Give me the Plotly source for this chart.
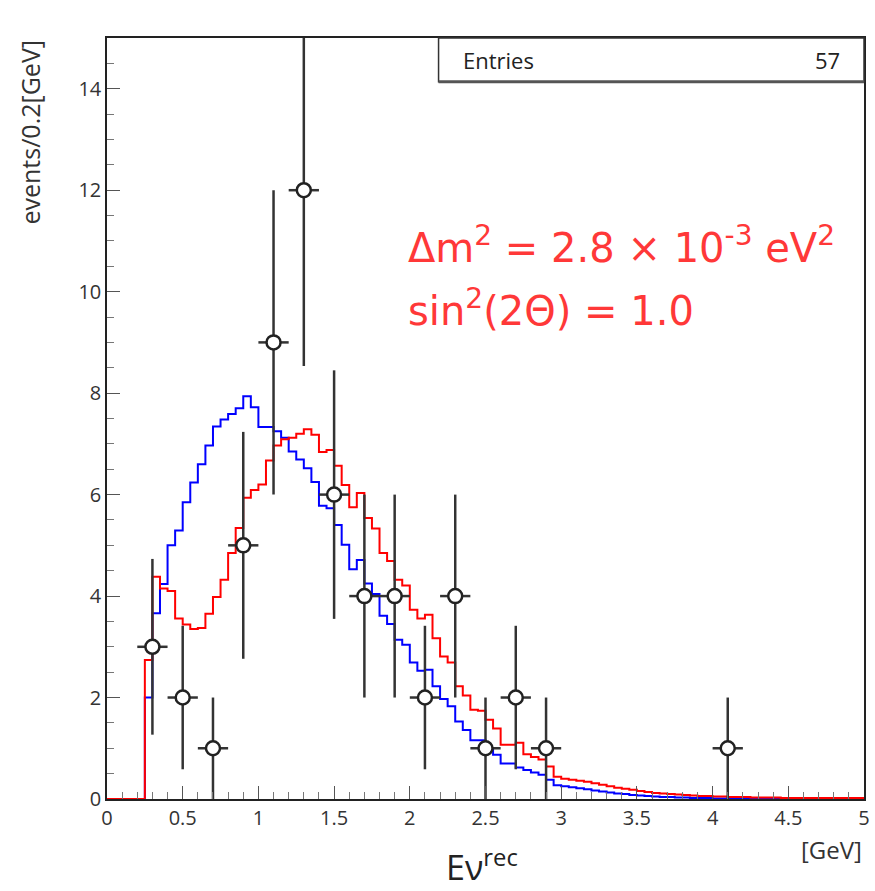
import numpy as np
import plotly.graph_objects as go

# ---------------- data ----------------
bin_width = 0.05
n_bins = 100
bin_edges = np.round(np.arange(n_bins + 1) * bin_width, 4)

# prediction without oscillation (blue), bins of 0.05 GeV from 0 to 5
blue_vals = [0, 0, 0, 0, 0,
             2.00, 3.66, 4.24, 5.00, 5.29, 5.85, 6.24, 6.60, 6.97, 7.34,
             7.48, 7.59, 7.70, 7.94, 7.72, 7.33, 7.33, 7.25, 7.12, 6.85,
             6.69, 6.52, 6.25, 5.78, 5.73, 5.40, 5.01, 4.53, 4.71, 4.25,
             4.04, 3.61, 3.45, 3.14, 3.04, 2.69, 2.53, 2.55, 2.22, 1.97,
             1.83, 1.53, 1.36, 1.16, 1.16, 0.99, 0.87, 0.70, 0.70, 0.62,
             0.57, 0.52, 0.48, 0.38, 0.27, 0.25, 0.23, 0.21, 0.19, 0.17,
             0.15, 0.13, 0.11, 0.10, 0.08, 0.07, 0.06, 0.05, 0.04, 0.04,
             0.03, 0.03, 0.02, 0.02, 0.02, 0.01, 0.01, 0.01, 0.01, 0.01,
             0.01, 0.01, 0.01, 0.01, 0.01, 0.01, 0.01, 0.01, 0.01, 0.01,
             0.01, 0.01, 0.01, 0.01, 0.01]

# prediction with oscillation (red)
red_vals = [0, 0, 0, 0, 0,
            2.74, 4.38, 4.15, 4.10, 3.56, 3.44, 3.35, 3.37, 3.65, 3.98,
            4.32, 4.85, 5.34, 5.94, 6.09, 6.20, 6.67, 6.97, 7.09, 7.12,
            7.20, 7.29, 7.18, 6.84, 6.88, 6.57, 6.19, 5.75, 6.03, 5.54,
            5.33, 4.85, 4.69, 4.32, 4.21, 3.73, 3.56, 3.63, 3.17, 2.81,
            2.69, 2.22, 2.04, 1.76, 1.74, 1.56, 1.39, 1.07, 1.07, 1.11,
            0.88, 0.83, 0.78, 0.64, 0.44, 0.40, 0.38, 0.36, 0.34, 0.31,
            0.28, 0.25, 0.22, 0.20, 0.18, 0.16, 0.14, 0.12, 0.11, 0.10,
            0.09, 0.08, 0.07, 0.06, 0.06, 0.05, 0.05, 0.04, 0.04, 0.04,
            0.03, 0.03, 0.03, 0.03, 0.02, 0.02, 0.02, 0.02, 0.02, 0.02,
            0.02, 0.02, 0.02, 0.02, 0.02]

# observed events (bins of 0.2 GeV)
data_x = [0.3, 0.5, 0.7, 0.9, 1.1, 1.3, 1.5, 1.7, 1.9, 2.1, 2.3, 2.5, 2.7, 2.9, 4.1]
data_y = [3, 2, 1, 5, 9, 12, 6, 4, 4, 2, 4, 1, 2, 1, 1]
data_xerr = 0.1
entries = int(sum(data_y))

x_ticks = [0, 0.5, 1, 1.5, 2, 2.5, 3, 3.5, 4, 4.5, 5]
y_ticks = [0, 2, 4, 6, 8, 10, 12, 14]

# ---------------- figure ----------------
def step_y(vals):
    return list(vals) + [vals[-1]]

fig = go.Figure()
fig.add_trace(go.Scatter(x=bin_edges, y=step_y(blue_vals), mode="lines",
                         line=dict(color="#0000ff", width=2, shape="hv"),
                         showlegend=False, hoverinfo="skip"))
fig.add_trace(go.Scatter(x=bin_edges, y=step_y(red_vals), mode="lines",
                         line=dict(color="#ff0000", width=2, shape="hv"),
                         showlegend=False, hoverinfo="skip"))
fig.add_trace(go.Scatter(
    x=data_x, y=data_y, mode="markers",
    marker=dict(symbol="circle", size=14, color="white",
                line=dict(color="#222222", width=2.5)),
    error_y=dict(type="data", array=list(np.sqrt(data_y)), color="#333333",
                 thickness=2.5, width=0),
    error_x=dict(type="constant", value=data_xerr, color="#333333",
                 thickness=2.5, width=0),
    showlegend=False))

font_family = "Open Sans, Lato, DejaVu Sans, sans-serif"
axis_common = dict(showgrid=False, zeroline=False, showline=True, mirror=True,
                   linecolor="#222222", linewidth=1.5, ticks="inside",
                   tickcolor="#555555", tickwidth=1,
                   tickfont=dict(family=font_family, size=20, color="#333333"))

fig.update_xaxes(range=[0, 5], tickmode="array", tickvals=x_ticks,
                 ticktext=[f"{t:g}" for t in x_ticks], ticklen=13,
                 ticklabeloverflow="allow",
                 minor=dict(dtick=0.1, ticklen=7, ticks="inside",
                            tickcolor="#777777", tickwidth=1),
                 **axis_common)
fig.update_yaxes(range=[0, 15], tickmode="array", tickvals=y_ticks,
                 ticktext=[str(t) for t in y_ticks], ticklen=13,
                 minor=dict(dtick=0.5, ticklen=7, ticks="inside",
                            tickcolor="#777777", tickwidth=1),
                 **axis_common)

fig.update_layout(
    width=875, height=891,
    margin=dict(l=107, r=5, t=38, b=92),
    paper_bgcolor="white", plot_bgcolor="white",
    font=dict(family=font_family, color="#333333"),
)

# stats box
fig.add_shape(type="rect", xref="paper", yref="paper",
              x0=0.438, x1=1.0, y0=0.9426, y1=1.0,
              line=dict(color="#333333", width=1.5), fillcolor="white",
              layer="above")
fig.add_shape(type="line", xref="paper", yref="paper",
              x0=0.438, x1=1.0, y0=0.9426, y1=0.9426,
              line=dict(color="#555555", width=3), layer="above")
fig.add_annotation(xref="paper", yref="paper", x=0.468, y=0.971,
                   text="Entries", showarrow=False, xanchor="left",
                   yanchor="middle", font=dict(size=22, color="#222222"))
fig.add_annotation(xref="paper", yref="paper", x=0.971, y=0.971,
                   text=str(entries), showarrow=False, xanchor="right",
                   yanchor="middle", font=dict(size=22, color="#222222"))

# axis titles
fig.add_annotation(xref="paper", yref="paper", x=-0.103, y=1.0,
                   text="events/0.2[GeV]", textangle=-90, showarrow=False,
                   xanchor="center", yanchor="top",
                   font=dict(size=25, color="#333333"))
fig.add_annotation(xref="paper", yref="paper", x=1.0, y=-0.066,
                   text="[GeV]", showarrow=False, xanchor="right",
                   yanchor="middle", font=dict(size=24, color="#333333"))
fig.add_annotation(xref="paper", yref="paper", x=0.445, y=-0.087,
                   text="Eν<sup>rec</sup>", showarrow=False, xanchor="left",
                   yanchor="middle", font=dict(size=34, color="#222222"))

# oscillation parameters
red_txt = "#ff3838"
fig.add_annotation(xref="paper", yref="paper", x=0.395, y=0.728,
                   text="Δm<sup>2</sup> = 2.8 × 10<sup>-3</sup> eV<sup>2</sup>",
                   showarrow=False, xanchor="left", yanchor="middle",
                   font=dict(size=40, color=red_txt, family="DejaVu Sans"))
fig.add_annotation(xref="paper", yref="paper", x=0.395, y=0.645,
                   text="sin<sup>2</sup>(2Θ) = 1.0",
                   showarrow=False, xanchor="left", yanchor="middle",
                   font=dict(size=40, color=red_txt, family="DejaVu Sans"))

fig.write_html("out.html")
